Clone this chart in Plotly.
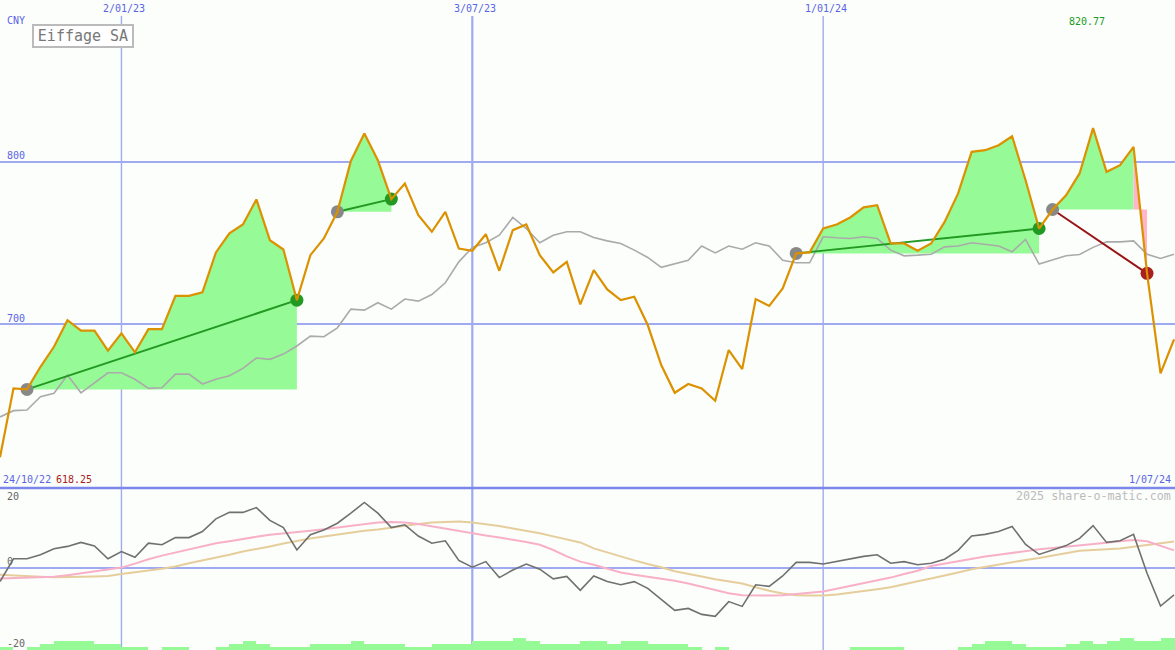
import plotly.graph_objects as go
import pandas as pd

# ---------------- data ----------------
dates = pd.date_range("2022-10-31", periods=88, freq="7D")

price = [618.25, 660.6, 660.0, 673.9, 686.2, 702.6, 696.1, 696.1, 683.8, 694.5,
         682.8, 697.1, 697.1, 717.6, 717.6, 719.7, 744.3, 756.0, 761.5, 776.9,
         751.8, 746.1, 714.9, 742.6, 752.9, 769.3, 800.6, 817.5, 801.0, 777.1,
         786.7, 767.2, 757.0, 769.3, 746.7, 745.3, 755.5, 733.0, 758.0, 761.5,
         742.6, 732.0, 738.5, 712.3, 733.4, 721.5, 714.9, 717.0, 699.6, 675.0,
         657.9, 663.3, 660.6, 653.0, 684.2, 672.5, 715.6, 711.4, 722.1, 743.7,
         744.3, 759.0, 761.5, 765.8, 772.0, 773.4, 749.8, 749.8, 745.3, 749.8,
         763.1, 780.6, 806.2, 807.2, 810.3, 815.8, 788.7, 759.0, 770.7, 779.5,
         792.9, 820.77, 793.9, 798.0, 809.2, 731.4, 669.9, 690.8]

relative = [643.0, 646.9, 647.3, 655.5, 657.6, 668.8, 657.9, 664.3, 670.2, 670.2,
            666.2, 660.6, 661.0, 669.4, 669.4, 663.3, 666.2, 668.4, 672.9, 679.3,
            678.5, 681.7, 686.7, 692.8, 692.4, 697.9, 709.4, 708.8, 713.3, 709.4,
            715.6, 714.3, 718.4, 725.6, 738.5, 747.4, 750.2, 754.9, 765.8, 759.0,
            750.2, 754.9, 757.0, 757.0, 753.5, 751.4, 749.8, 745.7, 741.2, 735.1,
            737.1, 739.5, 748.2, 744.0, 748.2, 746.3, 750.2, 748.2, 739.5, 737.9,
            737.9, 753.9, 753.3, 752.9, 753.9, 752.9, 745.7, 742.2, 742.6, 743.2,
            747.7, 748.2, 750.2, 749.2, 748.2, 744.7, 752.3, 737.1, 739.5, 742.2,
            743.0, 747.4, 750.8, 750.8, 751.4, 743.2, 740.6, 743.2]

momentum = [-3.5, 2.2, 2.2, 3.2, 4.7, 5.3, 6.3, 5.4, 2.2, 4.0,
            2.6, 6.1, 5.7, 7.5, 7.5, 9.0, 12.2, 13.8, 13.8, 15.0,
            11.8, 10.0, 4.4, 8.2, 9.4, 11.1, 13.6, 16.3, 13.6, 10.0,
            10.7, 7.9, 6.1, 6.7, 1.8, 0.1, 1.5, -2.5, -0.6, 0.9,
            -0.4, -2.8, -2.2, -5.7, -2.1, -3.5, -4.3, -3.5, -5.2, -7.9,
            -10.7, -10.2, -11.7, -12.2, -8.5, -9.7, -4.3, -4.7, -2.1, 1.3,
            1.3, 0.9, 1.5, 2.2, 2.8, 3.2, 1.1, 1.5, 0.7, 1.1,
            2.1, 4.3, 7.9, 8.3, 9.0, 10.3, 5.8, 3.3, 4.4, 5.5,
            7.3, 10.5, 6.3, 6.7, 8.3, -1.4, -9.6, -6.8]

avg_fast = [-2.7, -2.6, -2.6, -2.5, -2.3, -1.9, -1.4, -0.9, -0.4, 0.0,
            1.0, 2.1, 3.0, 3.8, 4.6, 5.4, 6.1, 6.6, 7.2, 7.7,
            8.2, 8.5, 8.9, 9.2, 9.6, 10.0, 10.4, 10.9, 11.3, 11.4,
            11.3, 10.9, 10.3, 9.8, 9.2, 8.6, 8.0, 7.5, 7.0, 6.4,
            5.7, 4.4, 2.8, 1.5, 0.7, -0.3, -1.2, -1.8, -2.3, -2.8,
            -3.3, -4.0, -4.8, -5.6, -6.4, -6.9, -7.0, -7.0, -6.9, -6.6,
            -6.3, -6.0, -5.3, -4.6, -3.9, -3.2, -2.5, -1.6, -0.8, 0.4,
            1.0, 1.7, 2.3, 2.8, 3.2, 3.7, 4.2, 4.6, 4.9, 5.2,
            5.5, 5.9, 6.2, 6.6, 6.9, 6.6, 5.4, 4.3]

avg_slow = [-1.8, -2.0, -2.2, -2.3, -2.4, -2.4, -2.3, -2.2, -2.1, -1.6,
            -1.1, -0.7, -0.3, 0.3, 1.1, 1.8, 2.4, 3.2, 4.0, 4.6,
            5.3, 6.0, 6.7, 7.3, 7.8, 8.3, 8.8, 9.2, 9.5, 10.0,
            10.4, 10.9, 11.3, 11.4, 11.5, 11.3, 10.9, 10.4, 9.8, 9.2,
            8.6, 7.8, 7.0, 6.3, 4.8, 3.8, 2.7, 1.8, 0.9, 0.1,
            -0.9, -1.5, -2.2, -2.9, -3.5, -4.0, -4.9, -5.8, -6.5, -6.9,
            -7.0, -7.0, -6.7, -6.3, -5.8, -5.4, -4.9, -4.1, -3.4, -2.7,
            -2.0, -1.2, -0.4, 0.2, 0.7, 1.3, 1.9, 2.4, 3.0, 3.7,
            4.2, 4.4, 4.6, 4.8, 5.2, 5.6, 6.0, 6.5]

volume_level = [1, 0, 1, 2, 3, 3, 3, 2, 2, 1,
                1, 0, 1, 1, 0, 0, 1, 2, 3, 2,
                1, 1, 1, 2, 2, 2, 3, 2, 2, 2,
                1, 1, 2, 2, 2, 3, 3, 3, 4, 3,
                2, 2, 2, 3, 3, 2, 3, 3, 2, 2,
                2, 1, 0, 1, 0, 0, 0, 0, 0, 0,
                0, 0, 0, 1, 1, 1, 1, 0, 0, 0,
                0, 1, 2, 3, 3, 2, 1, 1, 1, 2,
                3, 2, 3, 4, 3, 3, 4, 4]

trade_entry = [2, 25, 59, 78]
trade_exit = [22, 29, 77, 85]

grid_dates = ["2023-01-02", "2023-07-03", "2024-01-01"]
grid_labels = ["2/01/23", "3/07/23", "1/01/24"]
price_grid = [700, 800]
start_label = "24/10/22"
end_label = "1/07/24"
currency = "CNY"
title = "Eiffage SA"

# ---------------- style ----------------
BG = "#FBFEFB"
GRID = "#A0AAF0"
BORDER = "#7B87EA"
LABEL_BLUE = "#5A64E6"
FILL_GREEN = "#96FA96"
FILL_PINK = "#FFB6C8"
ORANGE = "#DC9100"
GREY_LINE = "#AAAAAA"
WIN = "#229922"
LOSS_LINE = "#991515"
LOSS_MARK = "#AA2020"
FONT = "DejaVu Sans Mono"

W, H = 1175, 650
TOP = 16
PH = H - TOP
SPLIT_PX = 488
split = (H - SPLIT_PX) / PH


def ypx(p):
    return 1 - (p - TOP) / PH


def xpx(p):
    return p / W


fig = go.Figure()

# ---- trade fills ----
for a, b in zip(trade_entry, trade_exit):
    base = price[a]
    win = price[b] >= base
    g_end = b if win else b - 1
    xs = list(dates[a:g_end + 1]) + [dates[g_end], dates[a]]
    ys = price[a:g_end + 1] + [base, base]
    fig.add_trace(go.Scatter(x=xs, y=ys, mode="lines", fill="toself",
                             fillcolor=FILL_GREEN, line=dict(width=0),
                             hoverinfo="skip", xaxis="x", yaxis="y"))
    if not win:
        xs = [dates[b - 1], dates[b - 1], dates[b], dates[b], dates[b - 1]]
        ys = [base, price[b - 1], price[b], base, base]
        fig.add_trace(go.Scatter(x=xs, y=ys, mode="lines", fill="toself",
                                 fillcolor=FILL_PINK, line=dict(width=0),
                                 hoverinfo="skip", xaxis="x", yaxis="y"))

# ---- relative line ----
fig.add_trace(go.Scatter(x=dates, y=relative, mode="lines",
                         line=dict(color=GREY_LINE, width=1.6),
                         xaxis="x", yaxis="y"))

# ---- trade segment lines ----
for a, b in zip(trade_entry, trade_exit):
    win = price[b] >= price[a]
    fig.add_trace(go.Scatter(x=[dates[a], dates[b]], y=[price[a], price[b]],
                             mode="lines",
                             line=dict(color=WIN if win else LOSS_LINE, width=2),
                             xaxis="x", yaxis="y"))

# ---- markers ----
fig.add_trace(go.Scatter(x=[dates[a] for a in trade_entry],
                         y=[price[a] for a in trade_entry], mode="markers",
                         marker=dict(size=13, color="#888888"),
                         xaxis="x", yaxis="y"))
fig.add_trace(go.Scatter(x=[dates[b] for b in trade_exit],
                         y=[price[b] for b in trade_exit], mode="markers",
                         marker=dict(size=13, color=[WIN if price[b] >= price[a] else LOSS_MARK
                                                     for a, b in zip(trade_entry, trade_exit)]),
                         xaxis="x", yaxis="y"))

# ---- price line ----
fig.add_trace(go.Scatter(x=dates, y=price, mode="lines",
                         line=dict(color=ORANGE, width=2.2),
                         xaxis="x", yaxis="y"))

# ---- lower panel ----
fig.add_trace(go.Bar(x=dates, y=volume_level, offset=0, width=7 * 24 * 3600 * 1000,
                     marker=dict(color=FILL_GREEN, line=dict(width=0)),
                     xaxis="x2", yaxis="y3"))
fig.add_trace(go.Scatter(x=dates, y=avg_slow, mode="lines",
                         line=dict(color="#E6CD9C", width=2),
                         xaxis="x2", yaxis="y2"))
fig.add_trace(go.Scatter(x=dates, y=avg_fast, mode="lines",
                         line=dict(color="#F8B0C8", width=2),
                         xaxis="x2", yaxis="y2"))
fig.add_trace(go.Scatter(x=dates, y=momentum, mode="lines",
                         line=dict(color="#707070", width=1.6),
                         xaxis="x2", yaxis="y2"))

# ---- grid shapes ----
shapes = []
for d, w in zip(grid_dates, [1.4, 2.2, 1.4]):
    shapes.append(dict(type="line", xref="x", yref="paper", x0=d, x1=d,
                       y0=0, y1=1, line=dict(color=GRID, width=w), layer="below"))
shapes.append(dict(type="line", xref="paper", yref="paper", x0=0, x1=1,
                   y0=split, y1=split, line=dict(color=BORDER, width=2.5), layer="below"))

# ---- annotations ----
ann = []


def label(text, x, y, color=LABEL_BLUE, size=10, xanchor="left", xref="paper", **kw):
    ann.append(dict(text=text, x=x, y=y, xref=xref, yref="paper", showarrow=False,
                    xanchor=xanchor, yanchor="middle",
                    font=dict(family=FONT, size=size, color=color), **kw))


for d, t in zip(grid_dates, grid_labels):
    label(t, d, ypx(8.5), xanchor="center", xref="x", xshift=3)
label(currency, xpx(5), ypx(21))
for v in price_grid:
    ann.append(dict(text=str(v), x=xpx(5), y=v, xref="paper", yref="y",
                    showarrow=False, xanchor="left", yanchor="middle", yshift=6,
                    font=dict(family=FONT, size=10, color=LABEL_BLUE)))
i_max = price.index(max(price))
label(f"{max(price):.2f}", dates[i_max], ypx(21.5), color=WIN, xanchor="center",
      xref="x", xshift=-6)
label(start_label, xpx(1), ypx(479))
label(f"{min(price):.2f}", xpx(54), ypx(479), color=LOSS_MARK)
label(end_label, xpx(1173), ypx(479), xanchor="right")
label("20", xpx(5), ypx(496.5), color="#666666")
label("0", xpx(5), ypx(561.5), color="#666666")
label("-20", xpx(5), ypx(643), color="#666666")
label("2025 share-o-matic.com", xpx(1173), ypx(496.5), color="#BBBBBB", size=11.7,
      xanchor="right")
ann.append(dict(text=title, x=xpx(32), y=ypx(24), xref="paper", yref="paper",
                showarrow=False, xanchor="left", yanchor="top",
                width=96, height=18, borderpad=1, borderwidth=2,
                bordercolor="#BBBBBB", bgcolor="#FFFFFF",
                font=dict(family=FONT, size=15, color="#777777")))

xr = [dates[0], dates[-1] + pd.Timedelta(hours=12)]
fig.update_layout(
    width=W, height=H, autosize=False,
    margin=dict(l=0, r=0, t=TOP, b=0, pad=0),
    paper_bgcolor=BG, plot_bgcolor=BG,
    showlegend=False, bargap=0,
    xaxis=dict(domain=[0, 1], anchor="y", type="date", range=xr, showgrid=False,
               showticklabels=False, zeroline=False, showline=False, ticks=""),
    xaxis2=dict(domain=[0, 1], anchor="y2", type="date", range=xr, matches="x",
                showgrid=False, showticklabels=False, zeroline=False, ticks=""),
    yaxis=dict(domain=[split, 1], anchor="x", range=[599.3, 889.8],
               tickvals=price_grid, gridcolor=GRID, gridwidth=2,
               showticklabels=False, zeroline=False, ticks=""),
    yaxis2=dict(domain=[0, split], anchor="x2", range=[-20.6, 19.9],
                tickvals=[0], gridcolor=GRID, gridwidth=2,
                showticklabels=False, zeroline=False, ticks=""),
    yaxis3=dict(overlaying="y2", anchor="x2", range=[0, 54], visible=False),
    shapes=shapes, annotations=ann,
)

fig.write_html("out.html", config={"displayModeBar": False},
               post_script="document.body.style.margin='0';document.body.style.overflow='hidden';")
